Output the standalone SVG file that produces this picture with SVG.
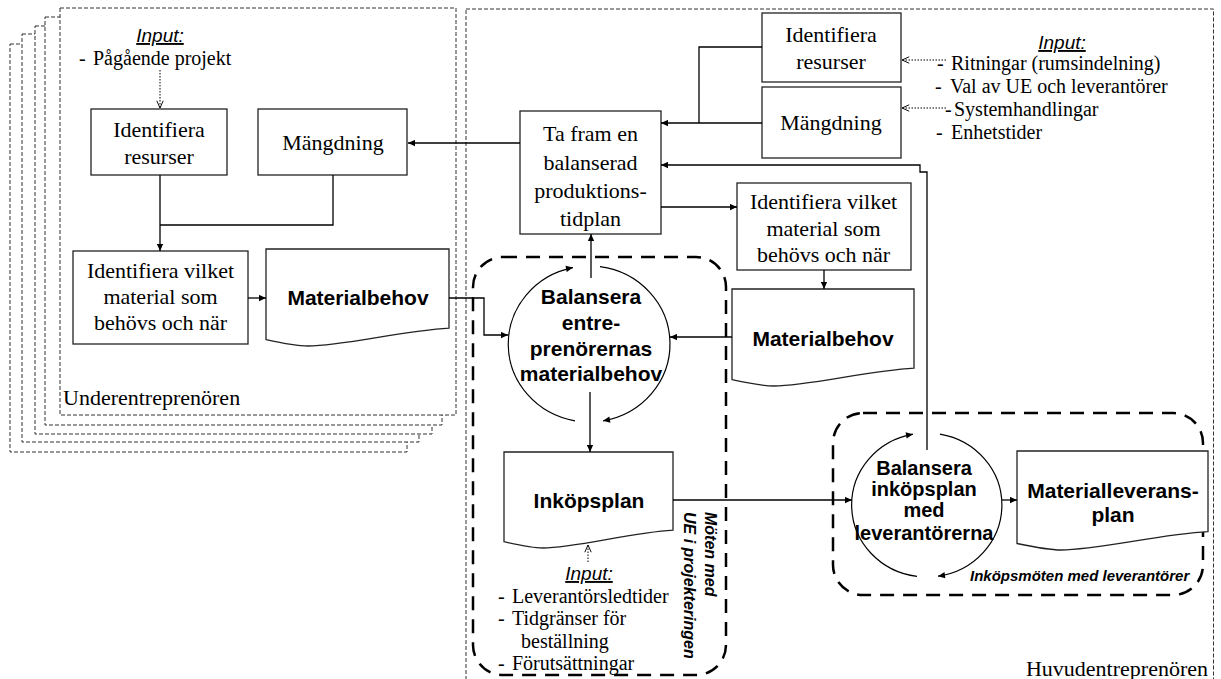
<svg xmlns="http://www.w3.org/2000/svg" width="1221" height="679" viewBox="0 0 1221 679">
<style>
.frame{fill:#fff;stroke:#333;stroke-width:1;stroke-dasharray:4 2}
.box{fill:#fff;stroke:#222;stroke-width:1.3}
.doc{fill:#fff;stroke:#222;stroke-width:1.3}
.grp{fill:none;stroke:#000;stroke-width:2.5;stroke-dasharray:14 9}
.ln{fill:none;stroke:#000;stroke-width:1.3}
.dot{fill:none;stroke:#000;stroke-width:1;stroke-dasharray:1.5 1.5}
.arc{fill:none;stroke:#000;stroke-width:1.2}
.t{font-family:"Liberation Serif","Times New Roman",serif;font-size:22px;fill:#000}
.s{font-family:"Liberation Serif","Times New Roman",serif;font-size:20px;fill:#000}
.b{font-family:"Liberation Sans",Arial,sans-serif;font-weight:bold;font-size:21px;fill:#000}
.bi{font-family:"Liberation Sans",Arial,sans-serif;font-weight:bold;font-style:italic;font-size:16px;fill:#000}
.in{font-family:"Liberation Sans",Arial,sans-serif;font-style:italic;font-size:19px;text-decoration:underline;fill:#000}
.c{text-anchor:middle}
</style>
<defs>
<marker id="a" viewBox="0 0 10 10" refX="10" refY="5" markerWidth="8" markerHeight="7" markerUnits="userSpaceOnUse" orient="auto"><path d="M0,0.5 L10,5 L0,9.5 z" fill="#000"/></marker>
<marker id="o" viewBox="0 0 10 10" refX="10" refY="5" markerWidth="8" markerHeight="8" markerUnits="userSpaceOnUse" orient="auto"><path d="M1,1 L10,5 L1,9" fill="none" stroke="#000" stroke-width="1.2"/></marker>
</defs>

<g id="frames">
<rect class="frame" x="10" y="44" width="397" height="408"/>
<rect class="frame" x="22" y="34" width="397" height="408"/>
<rect class="frame" x="35" y="26" width="397" height="408"/>
<rect class="frame" x="45" y="17" width="397" height="408"/>
<rect class="frame" x="60" y="8" width="396" height="407"/>
<text class="t" x="63" y="405">Underentreprenören</text>
<rect class="frame" x="466" y="9" width="747.5" height="680"/>
<text class="t" x="1208" y="676" text-anchor="end">Huvudentreprenören</text>
</g>

<g id="input-ue">
<text class="in c" x="160" y="42">Input:</text>
<text class="s" x="79" y="65">-<tspan x="93">Pågående projekt</tspan></text>
</g>

<g id="input-he">
<text class="in c" x="1062" y="49">Input:</text>
<text class="s" x="937" y="70">-<tspan x="951">Ritningar (rumsindelning)</tspan></text>
<text class="s" x="935" y="93">-<tspan x="950">Val av UE och leverantörer</tspan></text>
<text class="s" x="945" y="116">-<tspan x="954">Systemhandlingar</tspan></text>
<text class="s" x="936" y="139">-<tspan x="951">Enhetstider</tspan></text>
</g>

<g id="input-ink">
<text class="in c" x="589" y="580">Input:</text>
<text class="s" x="498" y="603">-<tspan x="512">Leverantörsledtider</tspan></text>
<text class="s" x="498" y="625">-<tspan x="512">Tidgränser för</tspan></text>
<text class="s" x="521" y="648">beställning</text>
<text class="s" x="498" y="670">-<tspan x="512">Förutsättningar</tspan></text>
</g>

<g id="group-ue-meetings">
<rect class="grp" x="473" y="257" width="253" height="418" rx="30"/>
<text class="bi" transform="translate(705,512) rotate(90)">Möten med</text>
<text class="bi" transform="translate(684,512) rotate(90)">UE i projekteringen</text>
</g>

<g id="group-supplier-meetings">
<rect class="grp" x="833" y="413" width="370" height="182" rx="30"/>
<text class="bi" x="970" y="581" style="font-size:15px">Inköpsmöten med leverantörer</text>
</g>

<g id="ue-identifiera-resurser">
<rect class="box" x="91" y="109" width="136" height="66"/>
<text class="t c" x="159" y="137">Identifiera</text>
<text class="t c" x="159" y="164">resurser</text>
</g>
<g id="ue-mangdning">
<rect class="box" x="258" y="109" width="149" height="66"/>
<text class="t c" x="333" y="150">Mängdning</text>
</g>
<g id="ue-identifiera-material">
<rect class="box" x="73" y="251" width="175" height="93"/>
<text class="t c" x="160.5" y="278">Identifiera vilket</text>
<text class="t c" x="160.5" y="304">material som</text>
<text class="t c" x="160.5" y="330">behövs och när</text>
</g>
<g id="ue-materialbehov">
<path class="doc" d="M266,249 H449 V328.1 C403.3,330.5 342.9,346 308.1,346 C297.1,346 284.3,343.6 266,339.6 Z"/>
<text class="b c" x="358" y="305">Materialbehov</text>
</g>

<g id="he-tidplan">
<rect class="box" x="520" y="111" width="141" height="123"/>
<text class="t c" x="590.5" y="141">Ta fram en</text>
<text class="t c" x="590.5" y="170">balanserad</text>
<text class="t c" x="590.5" y="198">produktions-</text>
<text class="t c" x="590.5" y="226">tidplan</text>
</g>
<g id="he-identifiera-resurser">
<rect class="box" x="762" y="13" width="139" height="69"/>
<text class="t c" x="831" y="42">Identifiera</text>
<text class="t c" x="831" y="69">resurser</text>
</g>
<g id="he-mangdning">
<rect class="box" x="762" y="87" width="139" height="71"/>
<text class="t c" x="831" y="130">Mängdning</text>
</g>
<g id="he-identifiera-material">
<rect class="box" x="737" y="183" width="174" height="87"/>
<text class="t c" x="823.5" y="209">Identifiera vilket</text>
<text class="t c" x="823.5" y="236">material som</text>
<text class="t c" x="823.5" y="262">behövs och när</text>
</g>
<g id="he-materialbehov">
<path class="doc" d="M732,289 H914 V368.1 C868.5,370.5 808.4,386 773.9,386 C762.9,386 750.2,383.6 732,379.6 Z"/>
<text class="b c" x="823" y="346">Materialbehov</text>
</g>

<g id="balansera-entreprenorer">
<path class="arc" d="M575,420.8 A81,78 0 0,1 573,267.6" marker-end="url(#a)"/>
<path class="arc" d="M600,266.7 A81,78 0 0,1 603,420.8" marker-end="url(#a)"/>
<text class="b c" x="591" y="304">Balansera</text>
<text class="b c" x="591" y="330">entre-</text>
<text class="b c" x="591" y="356">prenörernas</text>
<text class="b c" x="591" y="381">materialbehov</text>
</g>

<g id="inkopsplan">
<path class="doc" d="M504,452 H673 V530.2 C630.8,532.6 575,548 542.9,548 C532.7,548 520.9,545.6 504,541.7 Z"/>
<text class="b c" x="589" y="508">Inköpsplan</text>
</g>

<g id="balansera-inkopsplan">
<path class="arc" d="M917,576.4 A75,72 0 0,1 913,434.2" marker-end="url(#a)"/>
<path class="arc" d="M940,434.1 A75,72 0 0,1 938,576.2" marker-end="url(#a)"/>
<text class="b c" x="924" y="475" style="font-size:20px">Balansera</text>
<text class="b c" x="924" y="496" style="font-size:20px">inköpsplan</text>
<text class="b c" x="924" y="517" style="font-size:20px">med</text>
<text class="b c" x="924" y="540" style="font-size:20px">leverantörerna</text>
</g>

<g id="materialleveransplan">
<path class="doc" d="M1017,451 H1208 V531.7 C1160.3,534.2 1097.2,550 1060.9,550 C1049.5,550 1036.1,547.5 1017,543.5 Z"/>
<text class="b c" x="1113" y="498">Materialleverans-</text>
<text class="b c" x="1113" y="522">plan</text>
</g>

<g id="connectors">
<path class="ln" d="M160,175 V251" marker-end="url(#a)"/>
<path class="ln" d="M333,175 V225 H160"/>
<path class="ln" d="M248,298 H266" marker-end="url(#a)"/>
<path class="ln" d="M449,298 H484 V335 H508" marker-end="url(#a)"/>
<path class="ln" d="M520,143 H408" marker-end="url(#a)"/>
<path class="ln" d="M762,47 H699 V123"/>
<path class="ln" d="M762,123 H661" marker-end="url(#a)"/>
<path class="ln" d="M661,207 H737" marker-end="url(#a)"/>
<path class="ln" d="M591,278 V234" marker-end="url(#a)"/>
<path class="ln" d="M590,392 V452" marker-end="url(#a)"/>
<path class="ln" d="M732,337 H670" marker-end="url(#a)"/>
<path class="ln" d="M824,270 V289" marker-end="url(#a)"/>
<path class="ln" d="M673,500 H852" marker-end="url(#a)"/>
<path class="ln" d="M1002,500 H1017" marker-end="url(#a)"/>
<path class="ln" d="M927,450 V172 H920 V165 H661" marker-end="url(#a)"/>
<path class="dot" d="M160,70 V108" marker-end="url(#o)"/>
<path class="dot" d="M946,60 H902" marker-end="url(#o)"/>
<path class="dot" d="M946,108 H902" marker-end="url(#o)"/>
<path class="dot" d="M588,562 V545" marker-end="url(#o)"/>
</g>
</svg>
